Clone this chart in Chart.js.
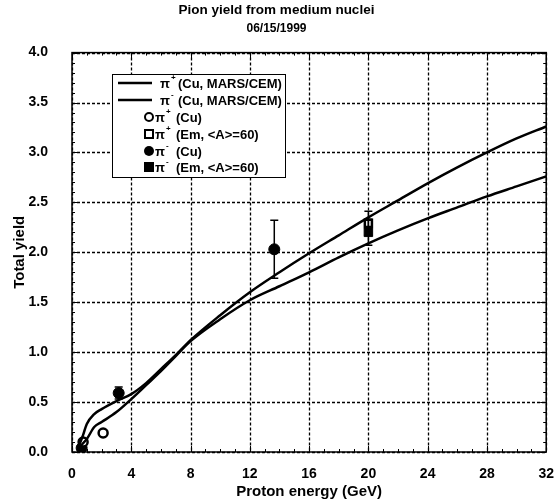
<!DOCTYPE html>
<html>
<head>
<meta charset="utf-8">
<script src="https://cdn.jsdelivr.net/npm/chart.js@4"></script>
<style>
  html, body { margin: 0; padding: 0; background: #fff; }
  canvas { display: block; }
</style>
</head>
<body>
<canvas id="pionChart" width="560" height="504"></canvas>
<script>
// MARS/CEM curves (proton energy in GeV -> total yield)
const curveE = [0.4, 0.7, 1, 1.5, 2, 3, 4, 5, 6, 7, 8, 10, 12, 14, 16, 18, 20, 22, 24, 26, 28, 30, 32];
const piPlusMars = [0.04, 0.15, 0.28, 0.38, 0.43, 0.51, 0.58, 0.69, 0.83, 0.97, 1.12, 1.37, 1.60, 1.80, 1.99, 2.17, 2.35, 2.52, 2.69, 2.85, 3.00, 3.14, 3.26];
const piMinusMars = [0.03, 0.08, 0.13, 0.25, 0.30, 0.40, 0.53, 0.67, 0.81, 0.96, 1.11, 1.33, 1.52, 1.66, 1.80, 1.95, 2.09, 2.22, 2.34, 2.45, 2.56, 2.66, 2.76];

// measured points
const piPlusCuE = [0.75, 2.1];
const piPlusCuY = [0.10, 0.19];
const piPlusCuErr = [0, 0];

const piPlusEmE = [20];
const piPlusEmY = [2.29];
const piPlusEmErr = [0.12];

const piMinusCuE = [0.65, 3.15, 13.65];
const piMinusCuY = [0.04, 0.59, 2.03];
const piMinusCuErr = [0, 0.06, 0.29];

const piMinusEmE = [20];
const piMinusEmY = [2.20];
const piMinusEmErr = [0.13];

const xTicks = [0, 4, 8, 12, 16, 20, 24, 28, 32];
const yTicks = [0, 0.5, 1, 1.5, 2, 2.5, 3, 3.5, 4];

const FONT = '"Liberation Sans", Arial, Helvetica, sans-serif';

const toPoints = (xs, ys, errs) => xs.map((x, i) => ({ x: x, y: ys[i], err: errs ? errs[i] : 0 }));

// dotted grid under the data
const gridLines = {
  id: 'gridLines',
  beforeDatasetsDraw(chart) {
    const ctx = chart.ctx;
    const a = chart.chartArea;
    const xs = chart.scales.x, ys = chart.scales.y;
    ctx.save();
    ctx.strokeStyle = '#000';
    ctx.lineWidth = 1.3;
    ctx.setLineDash([3, 2]);
    ctx.beginPath();
    for (const v of xTicks) {
      const px = Math.round(xs.getPixelForValue(v)) + 0.5;
      ctx.moveTo(px, a.top);
      ctx.lineTo(px, a.bottom);
    }
    for (const v of yTicks) {
      const py = Math.round(ys.getPixelForValue(v)) + 0.5;
      ctx.moveTo(a.left, py);
      ctx.lineTo(a.right, py);
    }
    ctx.stroke();
    ctx.restore();
  }
};

// error bars, drawn with the chart scales
const errorBars = {
  id: 'errorBars',
  afterDatasetsDraw(chart) {
    const ctx = chart.ctx;
    const xs = chart.scales.x, ys = chart.scales.y;
    ctx.save();
    ctx.strokeStyle = '#000';
    ctx.lineWidth = 1.5;
    chart.data.datasets.forEach(ds => {
      if (!ds.errorBars) return;
      ds.data.forEach(p => {
        if (!p.err) return;
        const px = xs.getPixelForValue(p.x);
        const top = ys.getPixelForValue(p.y + p.err);
        const bot = ys.getPixelForValue(p.y - p.err);
        ctx.beginPath();
        ctx.moveTo(px, top); ctx.lineTo(px, bot);
        ctx.moveTo(px - 4, top); ctx.lineTo(px + 4, top);
        ctx.moveTo(px - 4, bot); ctx.lineTo(px + 4, bot);
        ctx.stroke();
      });
    });
    ctx.restore();
  }
};

// frame and inward major/minor ticks on all four sides
const frameTicks = {
  id: 'frameTicks',
  afterDraw(chart) {
    const ctx = chart.ctx;
    const a = chart.chartArea;
    const xs = chart.scales.x, ys = chart.scales.y;
    ctx.save();
    ctx.strokeStyle = '#000';
    ctx.lineWidth = 1;
    ctx.beginPath();
    for (let v = 0; v <= 32; v += 1) {
      const px = Math.round(xs.getPixelForValue(v)) + 0.5;
      const len = v % 4 === 0 ? 6 : 3;
      ctx.moveTo(px, a.bottom); ctx.lineTo(px, a.bottom - len);
      ctx.moveTo(px, a.top); ctx.lineTo(px, a.top + len);
    }
    for (let k = 0; k <= 40; k++) {
      const py = Math.round(ys.getPixelForValue(k / 10)) + 0.5;
      const len = k % 5 === 0 ? 6 : 3;
      ctx.moveTo(a.left, py); ctx.lineTo(a.left + len, py);
      ctx.moveTo(a.right, py); ctx.lineTo(a.right - len, py);
    }
    ctx.stroke();
    ctx.lineWidth = 1.5;
    ctx.strokeRect(a.left, a.top, a.right - a.left, a.bottom - a.top);
    ctx.restore();
  }
};

// boxed legend inside the plot, upper left
const boxLegend = {
  id: 'boxLegend',
  afterDraw(chart) {
    const ctx = chart.ctx;
    const bx = 112, by = 74, bw = 173, bh = 103;
    const rows = [83, 100, 117, 134, 151, 167];
    const entries = [
      { kind: 'line', sign: '+', text: '(Cu, MARS/CEM)' },
      { kind: 'line', sign: '-', text: '(Cu, MARS/CEM)' },
      { kind: 'openCircle', sign: '+', text: '(Cu)' },
      { kind: 'openRect', sign: '+', text: '(Em, <A>=60)' },
      { kind: 'circle', sign: '-', text: '(Cu)' },
      { kind: 'rect', sign: '-', text: '(Em, <A>=60)' }
    ];
    ctx.save();
    ctx.fillStyle = '#fff';
    ctx.fillRect(bx, by, bw, bh);
    ctx.strokeStyle = '#000';
    ctx.lineWidth = 1;
    ctx.strokeRect(bx + 0.5, by + 0.5, bw, bh);
    ctx.textBaseline = 'middle';
    entries.forEach((e, i) => {
      const y = rows[i];
      let tx, gap;
      ctx.fillStyle = '#000';
      ctx.strokeStyle = '#000';
      if (e.kind === 'line') {
        ctx.lineWidth = 2.5;
        ctx.beginPath(); ctx.moveTo(118, y); ctx.lineTo(152, y); ctx.stroke();
        tx = 160;
        gap = 8;
      } else {
        const mx = 149;
        ctx.lineWidth = 2;
        ctx.beginPath();
        if (e.kind === 'openCircle') { ctx.arc(mx, y, 4, 0, Math.PI * 2); ctx.fillStyle = '#fff'; ctx.fill(); ctx.stroke(); }
        if (e.kind === 'circle') { ctx.arc(mx, y, 5, 0, Math.PI * 2); ctx.fill(); }
        if (e.kind === 'openRect') { ctx.rect(mx - 4, y - 4, 8, 8); ctx.fillStyle = '#fff'; ctx.fill(); ctx.stroke(); }
        if (e.kind === 'rect') { ctx.rect(mx - 5, y - 5, 10, 10); ctx.fill(); }
        tx = 155;
        gap = 11;
      }
      ctx.fillStyle = '#000';
      ctx.font = 'bold 13px ' + FONT;
      ctx.fillText('\u03c0', tx, y + 1);
      const pw = ctx.measureText('\u03c0').width;
      ctx.font = 'bold 8px ' + FONT;
      ctx.fillText(e.sign, tx + pw + 1, y - 5);
      ctx.font = 'bold 13px ' + FONT;
      ctx.fillText(e.text, tx + pw + gap, y + 1);
    });
    ctx.restore();
  }
};

document.addEventListener('DOMContentLoaded', function () {
  const ctx = document.getElementById('pionChart');
  new Chart(ctx, {
    type: 'scatter',
    data: {
      datasets: [
        {
          label: '\u03c0+ (Cu, MARS/CEM)',
          data: toPoints(curveE, piPlusMars),
          showLine: true,
          borderColor: '#000',
          borderWidth: 2.5,
          pointRadius: 0,
          cubicInterpolationMode: 'monotone'
        },
        {
          label: '\u03c0- (Cu, MARS/CEM)',
          data: toPoints(curveE, piMinusMars),
          showLine: true,
          borderColor: '#000',
          borderWidth: 2.5,
          pointRadius: 0,
          cubicInterpolationMode: 'monotone'
        },
        {
          label: '\u03c0+ (Cu)',
          data: toPoints(piPlusCuE, piPlusCuY, piPlusCuErr),
          errorBars: true,
          pointStyle: 'circle',
          pointRadius: 4.5,
          pointBackgroundColor: '#fff',
          pointBorderColor: '#000',
          pointBorderWidth: 2.5
        },
        {
          label: '\u03c0+ (Em, <A>=60)',
          data: toPoints(piPlusEmE, piPlusEmY, piPlusEmErr),
          errorBars: true,
          pointStyle: 'rect',
          pointRadius: 5,
          pointBackgroundColor: '#fff',
          pointBorderColor: '#000',
          pointBorderWidth: 2.5
        },
        {
          label: '\u03c0- (Cu)',
          data: toPoints(piMinusCuE, piMinusCuY, piMinusCuErr),
          errorBars: true,
          pointStyle: 'circle',
          pointRadius: 5.5,
          pointBackgroundColor: '#000',
          pointBorderColor: '#000',
          pointBorderWidth: 1
        },
        {
          label: '\u03c0- (Em, <A>=60)',
          data: toPoints(piMinusEmE, piMinusEmY, piMinusEmErr),
          errorBars: true,
          pointStyle: 'rect',
          pointRadius: 6,
          pointBackgroundColor: '#000',
          pointBorderColor: '#000',
          pointBorderWidth: 1
        }
      ]
    },
    options: {
      responsive: false,
      animation: false,
      devicePixelRatio: 1,
      layout: { padding: { left: 0, right: 7, top: 0, bottom: 0 } },
      plugins: {
        legend: { display: false },
        tooltip: { enabled: false },
        title: {
          display: true,
          text: 'Pion yield from medium nuclei',
          color: '#000',
          font: { family: FONT, size: 13.5, weight: 'bold' },
          padding: { top: 2, bottom: 2 }
        },
        subtitle: {
          display: true,
          text: '06/15/1999',
          color: '#000',
          font: { family: FONT, size: 12, weight: 'bold' },
          padding: { top: 1, bottom: 17 }
        }
      },
      scales: {
        x: {
          type: 'linear',
          min: 0,
          max: 32,
          afterBuildTicks: s => { s.ticks = xTicks.map(v => ({ value: v })); },
          afterFit: s => { s.height = 52; },
          ticks: {
            color: '#000',
            font: { family: FONT, size: 14, weight: 'bold' },
            padding: 6,
            maxRotation: 0
          },
          grid: { display: false },
          border: { display: false },
          title: {
            display: true,
            text: 'Proton energy (GeV)',
            color: '#000',
            font: { family: FONT, size: 15, weight: 'bold' },
            padding: { top: 0, bottom: 3 }
          }
        },
        y: {
          type: 'linear',
          min: 0,
          max: 4,
          afterBuildTicks: s => { s.ticks = yTicks.map(v => ({ value: v })); },
          afterFit: s => { s.width = 72; },
          ticks: {
            color: '#000',
            font: { family: FONT, size: 14, weight: 'bold' },
            padding: 16,
            callback: v => v.toFixed(1)
          },
          grid: { display: false },
          border: { display: false },
          title: {
            display: true,
            text: 'Total yield',
            color: '#000',
            font: { family: FONT, size: 15, weight: 'bold' },
            padding: { top: 11, bottom: 0 }
          }
        }
      }
    },
    plugins: [gridLines, errorBars, frameTicks, boxLegend]
  });
});
</script>
</body>
</html>
